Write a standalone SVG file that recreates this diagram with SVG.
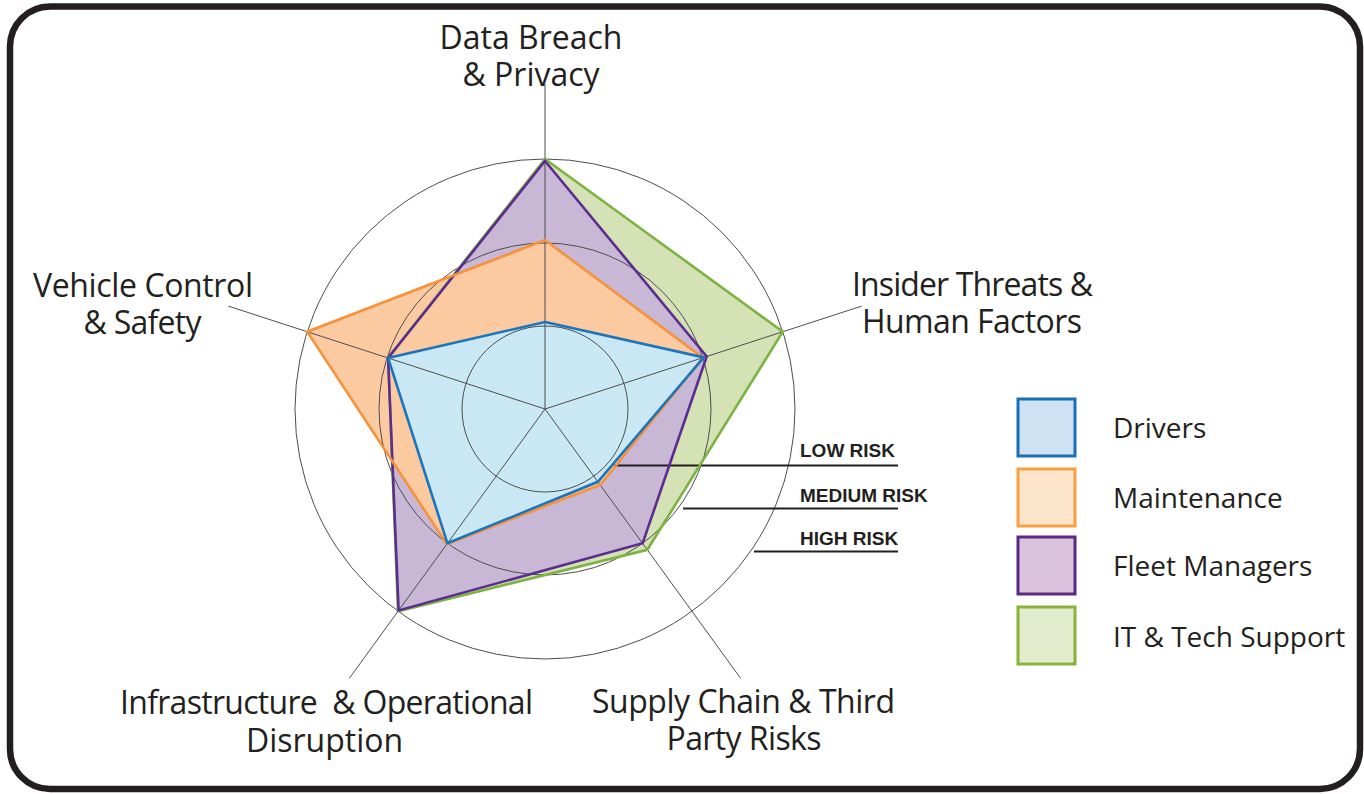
<svg xmlns="http://www.w3.org/2000/svg" width="1364" height="794" viewBox="0 0 1364 794">
  <style>
    .frame { fill: #ffffff; stroke: #231f20; stroke-width: 6.5; }
    .grid { fill: none; stroke: #4d4d4f; stroke-width: 1; }
    .axis-label { font-family: "Open Sans", "Liberation Sans", sans-serif; font-size: 32px; fill: #231f20; text-anchor: middle; white-space: pre; }
    .legend-label { font-family: "Open Sans", "Liberation Sans", sans-serif; font-size: 28px; fill: #231f20; }
    .risk-label { font-family: "Liberation Sans", Arial, sans-serif; font-size: 19px; font-weight: bold; fill: #231f20; }
    .risk-line { stroke: #231f20; stroke-width: 2; fill: none; }
    .series { stroke-width: 2.6; stroke-linejoin: miter; }
    .drivers-fill { fill: #c9e8f4; }
    .maint-fill { fill: #fccaa1; }
    .fleet-fill { fill: #c8b8d6; }
    .it-fill { fill: #d4e2b5; }
    .drivers-line { fill: none; stroke: #1c75bc; }
    .maint-line { fill: none; stroke: #f7923a; }
    .fleet-line { fill: none; stroke: #5c2d91; }
    .it-line { fill: none; stroke: #7cb342; }
    .swatch { stroke-width: 3; }
  </style>

  <!-- outer frame -->
  <rect class="frame" x="10" y="6.5" width="1350" height="782.5" rx="40" ry="40"/>

  <!-- radar chart: centre (545, 409), rings at 83 / 166 / 250 -->
  <g id="series-fills">
    <polygon class="it-fill" points="545,159 782.8,331.7 647.3,549.8 398,611.3 388.1,358"/>
    <polygon class="fleet-fill" points="545,161 706.7,356.5 642.6,543.3 398.6,610.4 388.1,358"/>
    <polygon class="maint-fill" points="545,240 702.9,357.7 600.3,485 446.8,544.1 307.2,331.7"/>
    <polygon class="drivers-fill" points="545,322 703.8,357.4 597.9,481.8 447.4,543.3 388.1,358"/>
  </g>

  <g id="grid">
    <circle class="grid" cx="545" cy="409" r="83"/>
    <circle class="grid" cx="545" cy="409" r="166"/>
    <circle class="grid" cx="545" cy="409" r="250"/>
  </g>

  <g id="connectors">
    <line class="grid" x1="545" y1="409" x2="545" y2="84"/>
    <line class="grid" x1="545" y1="409" x2="861.7" y2="306.1"/>
    <line class="grid" x1="545" y1="409" x2="740.7" y2="678.4"/>
    <line class="grid" x1="545" y1="409" x2="349.3" y2="678.4"/>
    <line class="grid" x1="545" y1="409" x2="228.3" y2="306.1"/>
    <!-- risk level leaders -->
    <line class="risk-line" x1="614" y1="465.5" x2="898" y2="465.5"/>
    <line class="risk-line" x1="683" y1="508.5" x2="898" y2="508.5"/>
    <line class="risk-line" x1="754" y1="551.5" x2="898" y2="551.5"/>
  </g>

  <g id="series-lines">
    <polygon class="series it-line" points="545,159 782.8,331.7 647.3,549.8 398,611.3 388.1,358"/>
    <polygon class="series fleet-line" points="545,161 706.7,356.5 642.6,543.3 398.6,610.4 388.1,358"/>
    <polygon class="series maint-line" points="545,240 702.9,357.7 600.3,485 446.8,544.1 307.2,331.7"/>
    <polygon class="series drivers-line" points="545,322 703.8,357.4 597.9,481.8 447.4,543.3 388.1,358"/>
  </g>

  <!-- axis labels -->
  <g id="axis-data-breach">
    <text class="axis-label" x="531" y="49">Data Breach</text>
    <text class="axis-label" x="531" y="86">&amp; Privacy</text>
  </g>
  <g id="axis-insider">
    <text class="axis-label" x="972.5" y="296" textLength="241" lengthAdjust="spacing">Insider Threats &amp;</text>
    <text class="axis-label" x="972" y="333" textLength="220" lengthAdjust="spacing">Human Factors</text>
  </g>
  <g id="axis-supply">
    <text class="axis-label" x="743.5" y="713" textLength="303" lengthAdjust="spacing">Supply Chain &amp; Third</text>
    <text class="axis-label" x="744" y="749.5" textLength="155" lengthAdjust="spacing">Party Risks</text>
  </g>
  <g id="axis-infrastructure">
    <text class="axis-label" x="326.5" y="714" textLength="413" lengthAdjust="spacing">Infrastructure  &amp; Operational</text>
    <text class="axis-label" x="324.5" y="751.5">Disruption</text>
  </g>
  <g id="axis-vehicle">
    <text class="axis-label" x="143" y="297" textLength="220" lengthAdjust="spacing">Vehicle Control</text>
    <text class="axis-label" x="142.5" y="333.5" textLength="118" lengthAdjust="spacing">&amp; Safety</text>
  </g>

  <!-- risk level labels -->
  <g id="risk-levels">
    <text class="risk-label" x="800" y="457">LOW RISK</text>
    <text class="risk-label" x="800" y="502">MEDIUM RISK</text>
    <text class="risk-label" x="800" y="545">HIGH RISK</text>
  </g>

  <!-- legend -->
  <g id="legend-drivers">
    <rect class="swatch" x="1018" y="399" width="57" height="57" fill="#cfe2f3" stroke="#1a6fb5"/>
    <text class="legend-label" x="1113" y="438">Drivers</text>
  </g>
  <g id="legend-maintenance">
    <rect class="swatch" x="1018" y="469" width="57" height="57" fill="#fde5cb" stroke="#f8a040"/>
    <text class="legend-label" x="1113" y="508">Maintenance</text>
  </g>
  <g id="legend-fleet">
    <rect class="swatch" x="1018" y="537" width="57" height="57" fill="#dcc3dd" stroke="#5a2a82"/>
    <text class="legend-label" x="1113" y="576">Fleet Managers</text>
  </g>
  <g id="legend-it">
    <rect class="swatch" x="1018" y="607" width="57" height="57" fill="#e2ebcc" stroke="#86b43a"/>
    <text class="legend-label" x="1113" y="647">IT &amp; Tech Support</text>
  </g>
</svg>
